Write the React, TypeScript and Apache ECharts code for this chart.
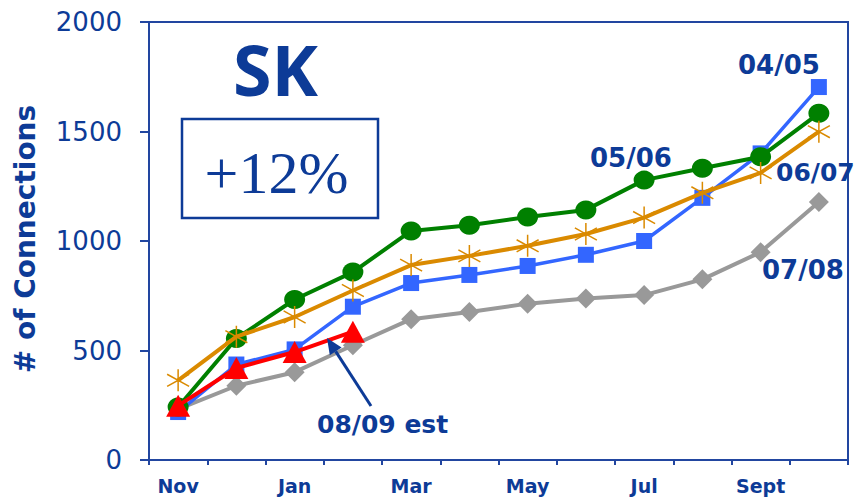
import React, { useEffect, useRef } from "react";
import * as echarts from "echarts";

const months = ["Nov", "Dec", "Jan", "Feb", "Mar", "Apr", "May", "Jun", "Jul", "Aug", "Sept", "Oct"];
const s0405 = [219, 436, 505, 700, 808, 845, 886, 937, 1000, 1197, 1400, 1703];
const s0506 = [242, 555, 733, 858, 1046, 1072, 1110, 1142, 1278, 1332, 1385, 1583];
const s0607 = [364, 563, 653, 774, 890, 932, 978, 1032, 1107, 1220, 1311, 1499];
const s0708 = [232, 339, 401, 524, 643, 676, 714, 737, 753, 825, 949, 1178];
const s0809 = [248, 420, 493, 586];
const yTicks = { min: 0, max: 2000, interval: 500 };

const AXIS = "#2246A0";
const TXT = "#0D3B97";
const ASTERISK = "path://M10,0L10,20M1.5,4.5L18.5,15.5M1.5,15.5L18.5,4.5";

export default function App() {
  const ref = useRef<HTMLDivElement>(null);
  useEffect(() => {
    if (!ref.current) return;
    const chart = echarts.init(ref.current, undefined, { renderer: "svg" });
    const lbl = (text: string, x: number, y: number, size = 26) => ({
      type: "text",
      x,
      y,
      z: 100,
      style: {
        text,
        fill: TXT,
        fontSize: size,
        fontWeight: "bold",
        fontFamily: "DejaVu Sans",
        align: "left",
        verticalAlign: "middle",
      },
    });
    chart.setOption({
      animation: false,
      backgroundColor: "#ffffff",
      grid: {
        left: 149,
        right: 9,
        top: 22,
        bottom: 39,
        show: true,
        borderColor: AXIS,
        borderWidth: 2,
        backgroundColor: "transparent",
      },
      xAxis: {
        type: "category",
        data: months,
        boundaryGap: true,
        axisLine: { show: true, lineStyle: { color: AXIS, width: 2 } },
        axisTick: { show: true, interval: 0, length: 5, lineStyle: { color: AXIS, width: 2 } },
        axisLabel: {
          interval: 1,
          color: TXT,
          fontSize: 19,
          fontWeight: "bold",
          fontFamily: "DejaVu Sans",
          margin: 16,
        },
        splitLine: { show: false },
      },
      yAxis: {
        type: "value",
        min: yTicks.min,
        max: yTicks.max,
        interval: yTicks.interval,
        axisLine: { show: true, lineStyle: { color: AXIS, width: 2 } },
        axisTick: { show: true, length: 9, lineStyle: { color: AXIS, width: 2 } },
        axisLabel: {
          color: TXT,
          fontSize: 26,
          fontFamily: "DejaVu Sans",
          margin: 27,
          formatter: (v: number) => String(v),
        },
        splitLine: { show: false },
      },
      series: [
        {
          name: "07/08",
          type: "line",
          data: s0708,
          symbol: "diamond",
          symbolSize: 20,
          lineStyle: { color: "#999999", width: 4 },
          itemStyle: { color: "#999999" },
          z: 2,
        },
        {
          name: "04/05",
          type: "line",
          data: s0405,
          symbol: "rect",
          symbolSize: 16,
          lineStyle: { color: "#3366FF", width: 3.5 },
          itemStyle: { color: "#3366FF" },
          z: 3,
        },
        {
          name: "05/06",
          type: "line",
          data: s0506,
          symbol: "circle",
          symbolSize: [21, 19],
          lineStyle: { color: "#008000", width: 4 },
          itemStyle: { color: "#008000" },
          z: 4,
        },
        {
          name: "06/07",
          type: "line",
          data: s0607,
          symbol: ASTERISK,
          symbolSize: 22,
          lineStyle: { color: "#DA8A00", width: 4 },
          itemStyle: { color: "none", borderColor: "#DA8A00", borderWidth: 1.5 },
          z: 5,
        },
        {
          name: "08/09 est",
          type: "line",
          data: s0809,
          symbol: "triangle",
          symbolSize: [24, 22],
          lineStyle: { color: "#FF0000", width: 4 },
          itemStyle: { color: "#FF0000" },
          z: 6,
        },
      ],
      graphic: [
        {
          type: "text",
          x: 25,
          y: 239,
          rotation: Math.PI / 2,
          style: {
            text: "# of Connections",
            fill: TXT,
            fontSize: 28,
            fontWeight: "bold",
            fontFamily: "DejaVu Sans",
            align: "center",
            verticalAlign: "middle",
          },
        },
        {
          type: "text",
          x: 275.5,
          y: 69,
          style: {
            text: "SK",
            fill: TXT,
            fontSize: 70,
            fontWeight: "bold",
            fontFamily: "Noto Sans",
            align: "center",
            verticalAlign: "middle",
          },
        },
        {
          type: "rect",
          shape: { x: 182, y: 119, width: 196, height: 99 },
          style: { fill: "#ffffff", stroke: TXT, lineWidth: 2.5 },
        },
        {
          type: "text",
          x: 276.5,
          y: 172.5,
          style: {
            text: "+12%",
            fill: TXT,
            fontSize: 60,
            fontFamily: "Liberation Serif",
            align: "center",
            verticalAlign: "middle",
          },
        },
        lbl("04/05", 738, 65),
        lbl("05/06", 590, 157.5),
        lbl("06/07", 776, 172, 25),
        lbl("07/08", 762, 270),
        lbl("08/09 est", 317, 424, 25),
        {
          type: "line",
          z: 100,
          shape: { x1: 371, y1: 406, x2: 335.7, y2: 351.4 },
          style: { stroke: TXT, lineWidth: 3 },
        },
        {
          type: "polygon",
          z: 100,
          shape: { points: [[327, 338], [341.6, 347.6], [329.8, 355.2]] },
          style: { fill: TXT },
        },
      ],
    });
    return () => chart.dispose();
  }, []);
  return <div ref={ref} style={{ position: "fixed", left: 0, top: 0, width: 857, height: 499 }} />;
}
